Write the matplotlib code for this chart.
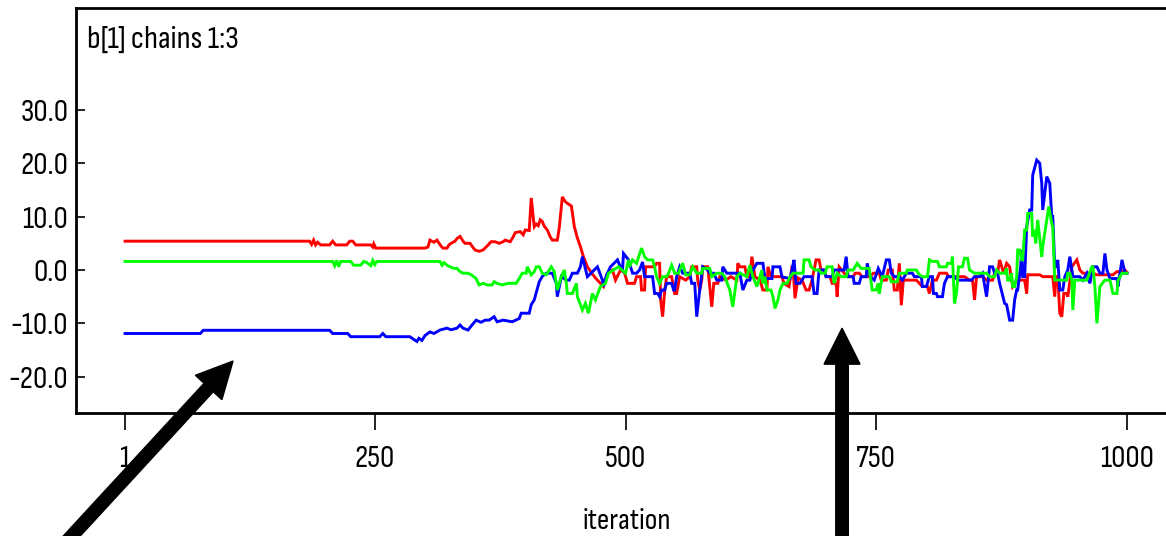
import matplotlib
matplotlib.use("Agg")
import matplotlib.pyplot as plt
from matplotlib.patches import FancyArrow
from matplotlib.transforms import IdentityTransform

plt.rcParams['font.family'] = ['Sofia Sans Condensed', 'Roboto Condensed', 'Liberation Sans', 'DejaVu Sans']

# Trace of b[1] for three MCMC chains (iteration, value)
chain1_iter = [1, 185, 187, 189, 191, 193, 196, 205, 208, 211, 222, 225, 228, 231, 246, 248, 249, 251, 290, 300,
               303, 305, 309, 312, 316, 318, 322, 324, 326, 330, 332, 335, 338, 340, 345, 348, 350, 354, 358, 362,
               366, 370, 374, 378, 380, 385, 388, 390, 395, 398, 400, 404, 406, 408, 409, 411, 413, 415, 417, 419,
               422, 425, 427, 432, 434, 437, 440, 442, 446, 449, 452, 455, 458, 462, 466, 470, 475, 478, 482, 487,
               490, 495, 499, 502, 509, 511, 515, 516, 519, 520, 529, 531, 534, 535, 537, 539, 541, 546, 549, 551,
               554, 560, 564, 566, 571, 572, 574, 576, 577, 582, 586, 588, 592, 594, 600, 605, 611, 612, 614, 619,
               621, 624, 626, 629, 634, 637, 641, 642, 645, 652, 656, 658, 663, 666, 667, 669, 672, 676, 680, 683,
               686, 690, 693, 695, 698, 700, 704, 706, 710, 711, 713, 718, 721, 727, 729, 733, 736, 744, 747, 753,
               755, 760, 762, 766, 768, 771, 773, 775, 777, 786, 790, 796, 801, 803, 806, 810, 813, 820, 822, 833,
               838, 843, 846, 848, 850, 856, 860, 866, 868, 871, 873, 877, 880, 883, 886, 890, 898, 900, 901, 913,
               916, 926, 928, 929, 931, 933, 935, 937, 940, 941, 945, 950, 953, 956, 966, 970, 986, 990, 995, 998,
               1000]
chain1_val = [5.4, 5.4, 4.8, 5.6, 4.7, 5.2, 4.7, 4.7, 5.4, 4.7, 4.7, 5.4, 5.4, 4.7, 4.7, 4.3, 4.9, 4.1, 4.1, 4.1,
              4.3, 5.6, 5.2, 5.6, 4.5, 4.1, 4.1, 4.7, 5.0, 5.4, 5.9, 6.3, 5.4, 5.0, 5.0, 4.2, 3.75, 3.5, 3.75, 4.5,
              5.3, 5.3, 5.0, 5.3, 5.6, 5.3, 6.2, 7.0, 7.2, 6.6, 7.5, 7.4, 13.5, 10.0, 8.1, 8.6, 8.3, 9.4, 9.1, 8.2,
              7.5, 6.2, 5.6, 5.6, 8.0, 13.7, 12.8, 12.5, 12.0, 8.1, 6.0, 4.4, 2.5, 0.6, -0.5, -1.5, -2.5, -3.1, -0.6, 0.0,
              -1.9, 0.0, -0.5, -2.5, -2.5, -1.25, -1.25, -3.75, -3.75, 0.6, 0.6, 1.25, 1.25, -5.6, -8.75, -4.0, -1.25, -1.25, -4.4, -4.4,
              -1.25, -1.9, -1.25, 0.6, 0.6, -1.9, -3.75, -1.9, 0.6, 0.6, -6.9, -2.5, -2.5, -1.25, -1.9, -1.25, -1.9, 1.25, 0.6, 0.6,
              -1.25, -1.25, 2.5, -1.25, -1.9, -3.75, -3.75, 0.6, -1.25, -1.25, -1.25, -2.5, -3.1, 0.6, 0.6, -5.3, -1.5, -1.9, -3.75, -3.75,
              -1.9, 1.9, 1.9, 0.0, 0.0, -1.25, -1.25, -2.5, -2.5, -5.0, 0.6, -0.6, -1.25, -1.25, -0.6, -0.6, -1.25, -1.25, -0.6, -0.6,
              -1.9, -1.9, 0.0, 0.0, -3.75, -3.75, 1.25, -6.6, -1.9, -1.9, -1.9, -3.1, -3.1, -4.4, -1.9, -1.9, -0.6, -0.6, -1.25, -1.25,
              -1.25, -1.9, -1.9, -5.6, -1.25, -1.25, -1.9, -1.9, -0.6, -0.6, 1.9, -0.6, 1.25, 0.6, -3.1, -1.9, -1.9, -4.4, -0.9, -0.9,
              -1.25, -1.25, -5.0, -1.25, -1.25, -8.1, -8.75, -4.4, -4.4, -5.0, 0.6, 1.9, 0.0, -0.6, -0.6, -0.9, -0.9, -0.3, -0.3, 0.0,
              -0.5]

chain2_iter = [1, 76, 79, 205, 208, 223, 226, 255, 258, 261, 285, 288, 292, 294, 297, 300, 305, 309, 315, 322,
               326, 332, 335, 338, 343, 347, 351, 356, 360, 364, 369, 372, 378, 387, 394, 396, 404, 406, 409, 414,
               417, 421, 427, 431, 432, 436, 441, 444, 447, 452, 455, 457, 462, 466, 472, 477, 478, 481, 485, 492,
               495, 497, 498, 503, 507, 511, 514, 517, 519, 527, 529, 532, 534, 536, 539, 541, 546, 548, 549, 551,
               554, 557, 564, 566, 569, 571, 574, 577, 582, 584, 588, 591, 596, 597, 601, 614, 617, 621, 624, 627,
               631, 637, 639, 646, 647, 654, 656, 664, 666, 668, 670, 674, 678, 686, 688, 691, 693, 698, 700, 706,
               708, 718, 720, 722, 727, 728, 733, 735, 740, 741, 744, 748, 752, 756, 760, 763, 765, 768, 773, 776,
               780, 786, 788, 795, 796, 800, 803, 806, 807, 810, 811, 816, 818, 821, 828, 831, 845, 848, 853, 856,
               860, 863, 866, 868, 871, 873, 878, 880, 883, 886, 888, 890, 891, 894, 895, 896, 898, 900, 903, 905,
               906, 910, 913, 915, 916, 920, 923, 925, 926, 928, 930, 931, 933, 936, 938, 941, 943, 946, 953, 956,
               960, 963, 966, 970, 973, 976, 978, 980, 983, 990, 991, 995, 998, 1000]
chain2_val = [-11.9, -11.9, -11.3, -11.3, -11.9, -11.9, -12.5, -12.5, -11.9, -12.5, -12.5, -12.9, -13.4, -12.8, -13.2, -12.3, -11.6, -11.9, -11.25, -10.9,
              -11.2, -10.9, -10.3, -10.9, -11.25, -10.3, -9.4, -9.8, -9.4, -9.4, -8.75, -9.7, -9.4, -9.7, -9.1, -8.1, -8.1, -6.5, -5.6, -2.2,
              -1.2, -0.6, -0.6, -2.5, -5.0, -1.25, -1.9, -1.9, -0.6, -0.6, 0.6, 2.5, -1.25, -0.5, 0.6, -1.9, -3.1, -1.0, 0.6, 1.9,
              0.5, 0.0, 3.1, 1.9, -0.6, -0.6, 0.0, 1.5, -1.25, -1.25, -4.4, -4.4, -5.0, -3.75, -3.75, -2.5, -2.5, -3.75, -3.75, -1.25,
              0.6, -0.6, -0.6, -2.5, -2.5, -8.75, -3.75, 0.6, 0.0, -0.6, -0.6, -1.9, -1.9, 0.6, -0.6, -0.6, -3.75, -1.9, -1.9, 0.0,
              1.25, 1.25, -1.6, -1.6, 0.6, 0.6, -1.3, -1.6, 0.0, 1.9, -2.5, -2.5, -1.25, -1.25, -4.4, -4.4, 0.0, 0.0, -1.25, -1.25,
              0.0, 0.0, 2.5, -1.25, -1.25, -2.5, -2.5, -1.25, -1.25, 1.25, -1.25, -1.9, 0.3, -1.25, 1.9, 1.9, -0.6, -1.25, -1.25, -1.9,
              -0.6, -0.6, -1.25, -1.25, -3.1, -3.1, -1.25, -1.25, -4.4, -4.4, -5.0, -5.0, -2.5, -1.25, -1.25, -1.9, -1.9, -1.25, -1.25, -0.6,
              -5.0, 0.6, 0.6, -0.6, -0.6, -2.5, -6.25, -6.5, -9.4, -9.4, -5.6, -3.75, -3.75, 0.6, 3.75, -1.25, -1.25, 8.1, 11.25, 11.25,
              17.8, 20.6, 20.0, 16.25, 11.25, 17.5, 16.25, 10.0, 10.0, 0.6, 0.6, 1.9, -3.75, -3.75, -1.25, 0.0, 2.5, -1.25, -1.25, -1.9,
              -0.6, -2.5, 0.6, 0.6, -0.6, -0.6, 3.1, 0.0, -1.6, -1.6, -3.1, 1.9, -0.6, -0.6]

chain3_iter = [1, 208, 210, 212, 214, 216, 226, 229, 236, 239, 242, 246, 248, 250, 252, 315, 317, 319, 322, 325,
               329, 332, 335, 338, 343, 347, 351, 354, 358, 362, 367, 369, 372, 377, 383, 391, 394, 397, 401, 402,
               406, 409, 411, 414, 417, 421, 426, 429, 431, 432, 436, 439, 441, 442, 447, 451, 452, 457, 460, 463,
               467, 470, 475, 480, 483, 488, 493, 500, 503, 504, 507, 511, 516, 519, 522, 527, 529, 531, 534, 537,
               541, 543, 546, 549, 553, 554, 557, 560, 564, 567, 571, 576, 577, 584, 586, 591, 596, 599, 604, 607,
               611, 614, 621, 624, 627, 631, 634, 636, 637, 639, 641, 645, 647, 649, 652, 654, 657, 661, 664, 667,
               677, 678, 683, 685, 689, 693, 695, 699, 701, 706, 708, 711, 715, 720, 722, 727, 731, 735, 743, 746,
               750, 752, 753, 756, 763, 765, 771, 773, 780, 781, 790, 793, 796, 801, 803, 806, 811, 813, 820, 821,
               825, 826, 828, 830, 832, 836, 838, 841, 843, 848, 860, 863, 868, 870, 873, 878, 880, 881, 883, 885,
               886, 888, 890, 891, 893, 895, 896, 898, 900, 901, 905, 906, 908, 909, 911, 915, 916, 920, 922, 925,
               926, 928, 940, 941, 943, 945, 946, 948, 960, 965, 966, 968, 970, 973, 978, 983, 986, 990, 991, 995,
               1000]
chain3_val = [1.6, 1.6, 0.8, 1.8, 0.6, 1.6, 1.6, 0.9, 0.9, 1.6, 1.4, 0.8, 1.8, 1.0, 1.6, 1.6, 0.9, 1.4, 0.9, 0.6,
              0.3, 0.3, -0.3, -0.6, -0.6, -1.0, -1.6, -2.8, -2.5, -2.8, -2.8, -2.2, -2.5, -2.8, -2.5, -2.5, -1.6, -0.6, -0.6, 0.6,
              -0.9, -0.3, 0.6, 0.6, -0.6, -0.9, 0.6, -0.3, -2.5, -3.75, -1.25, 0.0, -2.5, -4.4, -4.4, -2.5, -5.0, -7.5, -6.25, -8.1,
              -4.4, -5.6, -3.1, -2.5, -0.6, 0.0, 0.6, -0.6, 1.9, 0.6, 1.9, 1.25, 4.1, 2.5, 1.9, 1.9, 0.6, -1.25, -2.5, -1.25,
              -1.25, -0.6, 0.9, -0.6, -0.6, 0.0, 1.25, -0.9, -0.9, 0.6, -0.6, -0.6, 0.3, 0.3, -1.25, -0.6, -0.6, -1.25, -3.75, -6.9,
              -1.25, -0.6, -1.25, 0.9, -1.25, -3.1, -1.25, 0.0, -2.5, -1.25, -3.75, -3.75, -5.0, -7.2, -5.6, -3.75, -2.5, -2.5, -1.25, -0.6,
              -0.6, 1.9, 1.9, 0.6, 0.0, 0.0, -0.6, -0.6, 0.6, 0.6, -2.5, -0.6, -1.25, -1.25, 0.0, 0.0, 1.25, 0.3, 0.3, -3.75,
              -3.75, -2.5, -4.4, -1.25, -1.25, -2.2, -2.2, -0.6, -0.6, 0.0, 0.0, -0.9, -1.25, -1.25, 1.9, 1.6, 1.6, 0.6, 0.6, 1.25,
              1.25, 2.5, -6.25, -4.4, 0.6, 0.6, 2.2, 2.2, 0.0, -0.6, -0.6, -1.25, -1.25, 0.0, -0.6, -0.6, 0.3, -1.9, -1.9, -0.6,
              -3.1, -3.1, -1.25, 3.75, 3.75, 1.9, 1.9, 7.5, 7.5, 10.6, 10.6, 6.25, 7.5, 5.0, 9.4, 2.5, 4.4, 9.4, 11.9, 8.75,
              8.1, -1.9, -1.9, -0.6, -0.6, -1.9, -7.5, -1.9, -1.9, 0.6, 0.6, -3.1, -10.0, -3.1, -1.9, -1.9, -4.4, -4.4, -2.0, -0.6,
              -0.6]

x_ticks = [1, 250, 500, 750, 1000]
x_ticklabels = ["1", "250", "500", "750", "1000"]
y_ticks = [-20, -10, 0, 10, 20, 30]
y_ticklabels = ["-20.0", "-10.0", "0.0", "10.0", "20.0", "30.0"]

W, H, DPI = 1166, 536, 100
fig = plt.figure(figsize=(W / DPI, H / DPI), dpi=DPI)
ax = fig.add_axes([76 / W, 123 / H, 1090 / W, 405 / H])

lw = 2.1
ax.plot(chain1_iter, chain1_val, color=(1, 0, 0), lw=lw, solid_joinstyle='miter')
ax.plot(chain2_iter, chain2_val, color=(0, 0, 1), lw=lw, solid_joinstyle='miter')
ax.plot(chain3_iter, chain3_val, color=(0, 1, 0), lw=lw, solid_joinstyle='miter')

ax.set_xlim(-47.9, 1038.9)
ax.set_ylim(-26.8, 49.1)

for side in ('left', 'top', 'bottom'):
    ax.spines[side].set_linewidth(2.0)
ax.spines['right'].set_visible(False)

ax.set_xticks(x_ticks)
ax.set_xticklabels(x_ticklabels)
ax.set_yticks(y_ticks)
ax.set_yticklabels(y_ticklabels)
ax.tick_params(axis='x', direction='out', length=12, width=1.2, pad=11, labelsize=23)
ax.tick_params(axis='y', direction='in', length=6.5, width=1.2, pad=5.5, labelsize=23)

ax.text(0.0101, 0.901, "b[1] chains 1:3", transform=ax.transAxes, fontsize=23.5,
        ha='left', va='baseline')

ax.set_xlabel("iteration", fontsize=22)
ax.xaxis.set_label_coords(0.5055, -0.234)

# Pointer arrows, tips placed at data locations
def pointer(tip_x, tip_y, dx, dy):
    tx, ty = ax.transData.transform((tip_x, tip_y))
    arrow = FancyArrow(tx - dx, ty - dy, dx, dy, width=12.5, head_width=36,
                       head_length=36, length_includes_head=True,
                       color='black', transform=IdentityTransform())
    fig.add_artist(arrow)

pointer(108.7, -17.06, 177, 192)
pointer(715.9, -10.9, 0, 352)

fig.savefig("out.png", dpi=DPI)
